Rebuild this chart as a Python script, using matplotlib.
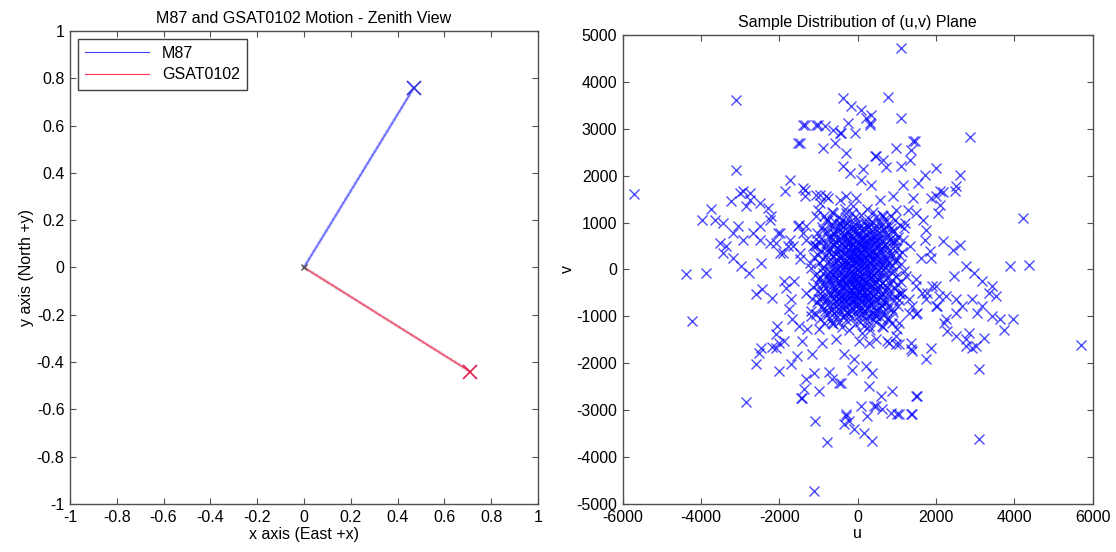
import numpy as np
import matplotlib
matplotlib.use("Agg")
import matplotlib.pyplot as plt

plt.rcParams['font.family'] = ['Liberation Sans', 'DejaVu Sans']
plt.rcParams['axes.unicode_minus'] = False

# Zenith view tracks (start, end)
m87_x = [0.0, 0.47]
m87_y = [0.0, 0.76]
gsat_x = [0.0, 0.71]
gsat_y = [0.0, -0.44]

# (u,v) samples, upper half plane only; the lower half is the conjugate (-u,-v)
outer_pts = [
    (-5711, 1617), (-3097, 3617), (-3097, 2128), (-3975, 1064), (-3736, 1298),
    (-3633, 1064), (-3438, 1000), (-3225, 1454), (-3012, 1631), (-2757, 1631),
    (-2757, 1489), (-2502, 1418), (-2290, 1312), (-2247, 1064), (-3055, 922),
    (-3183, 780), (-2928, 638), (-2673, 780), (-3353, 496), (-3523, 567),
    (-3438, 355), (-3183, 248), (-2970, 70), (-2459, 142), (-2502, 638),
    (-2247, 567), (-2035, 780), (-1991, 355), (-1779, 496), (-1736, 1915),
    (-1864, 1666), (-1524, 2696), (-1353, 3085), (-1353, 1702), (-1353, 1560),
    (-1055, 3085), (-885, 2589), (-842, 3050), (-1055, 1596), (-800, 1560),
    (-630, 2979), (-587, 2696), (-1498, 957), (-1013, 1277),
    (1115, 4716), (-375, 3652), (-162, 3489), (94, 3404), (349, 3298),
    (221, 3227), (306, 3085), (775, 3674), (1098, 3227), (-460, 2908),
    (-77, 2908), (2859, 2816), (1455, 2730), (988, 2589), (1370, 2553),
    (477, 2411), (647, 2340), (1328, 2340), (732, 2177), (1115, 2199),
    (2009, 2163), (2604, 2021), (2519, 1773), (2476, 1666), (1540, 1844),
    (1711, 2021), (2178, 1645), (2009, 1560), (2093, 1383), (2051, 1206),
    (4221, 1100), (1668, 1064), (1711, 638), (2178, 603), (2434, 425),
    (2604, 532), (1881, 248), (2774, 70), (3881, 70), (4374, 106),
    (-1396, 3085), (-1013, 3085), (-417, 2908), (-247, 3121), (-1481, 2696),
    (-289, 2482), (-375, 2199), (-204, 2057), (-1396, 1738), (-2928, 1666),
    (-970, 1596), (-758, 1525), (-460, 1489), (-289, 1560), (-2204, 1135),
    (-2842, 1347), (-970, 1418), (-1055, 1135), (-1311, 922), (-1524, 922),
    (-800, 1064), (-630, 1206), (-2502, 922), (-1991, 780), (-1736, 638),
    (-2076, 567), (-1906, 355), (-1651, 496), (-1311, 638), (-1055, 496),
    (-1481, 213), (-1226, 142), (-885, 851), (-630, 780), (-460, 993),
    (-289, 1206), (-119, 1347),
    (306, 3121), (1413, 2730), (434, 2411), (136, 2142), (349, 1808),
    (94, 1915), (1157, 1808), (2093, 1666), (1881, 1525), (1413, 1525),
    (903, 1560), (562, 1489), (-34, 1525), (988, 1277), (1285, 1277),
    (1498, 1206), (647, 1135), (1200, 993), (1753, 851), (1838, 390),
    (1626, 248), (1328, 496), (903, 638), (-1396, 780), (-1481, 355),
    (-1141, 496),
]

core_pts = [
    (-1180, 40), (-1120, 260), (-1090, 520), (-1040, 780), (-990, 130),
    (-960, 390), (-930, 640), (-900, 900), (-870, 1150), (-850, 60),
    (-820, 300), (-800, 560), (-780, 820), (-760, 1050), (-740, 190),
    (-720, 450), (-700, 700), (-680, 960), (-660, 1230), (-640, 20),
    (-620, 280), (-600, 520), (-590, 760), (-570, 1010), (-550, 150),
    (-530, 390), (-510, 630), (-500, 880), (-480, 1120), (-460, 60),
    (-450, 310), (-430, 560), (-410, 800), (-400, 1050), (-380, 200),
    (-370, 440), (-350, 690), (-330, 940), (-320, 1300), (-300, 90),
    (-290, 330), (-270, 580), (-250, 830), (-240, 1080), (-220, 10),
    (-210, 240), (-190, 480), (-180, 720), (-160, 970), (-150, 1200),
    (-130, 130), (-120, 370), (-100, 610), (-90, 860), (-70, 1110),
    (-60, 40), (-40, 270), (-30, 510), (-10, 760), (0, 1000),
    (20, 180), (30, 420), (50, 660), (60, 910), (80, 1160),
    (90, 70), (110, 310), (120, 550), (140, 800), (150, 1040),
    (170, 210), (180, 450), (200, 690), (210, 940), (230, 1280),
    (240, 100), (260, 340), (270, 580), (290, 830), (300, 1070),
    (320, 20), (330, 260), (350, 500), (360, 740), (380, 990),
    (390, 1230), (410, 150), (420, 390), (440, 630), (450, 880),
    (470, 1120), (480, 60), (500, 290), (510, 530), (530, 780),
    (540, 1020), (560, 200), (570, 430), (590, 670), (600, 920),
    (620, 1170), (630, 110), (650, 350), (660, 590), (680, 840),
    (690, 1080), (710, 30), (720, 250), (740, 490), (750, 730),
    (770, 980), (790, 160), (800, 400), (820, 640), (840, 890),
    (860, 1140), (880, 70), (900, 310), (920, 560), (940, 810),
    (960, 1060), (980, 200), (1010, 450), (1040, 700), (1070, 950),
    (1100, 120), (1130, 380), (1160, 620), (1190, 880),
    (-500, 180), (-350, 80), (-250, 420), (-150, 250), (-50, 150),
    (50, 350), (150, 120), (250, 230), (350, 130), (450, 250),
    (-420, 650), (-280, 760), (-120, 820), (40, 560), (190, 590),
    (330, 680), (480, 720), (610, 450), (-560, 330), (-700, 120),
    (700, 180), (-20, 20), (100, 480), (-200, 600), (380, 380),
    (-80, 420), (260, 900), (-380, 900), (560, 560), (-640, 520),
]

# extra samples filling the saturated centre
centre_pts = [
    (-880, 220), (-810, 470), (-760, 690), (-690, 330), (-660, 880),
    (-610, 140), (-580, 610), (-540, 820), (-490, 450), (-470, 260),
    (-440, 980), (-400, 120), (-390, 560), (-360, 340), (-340, 760),
    (-310, 200), (-300, 480), (-270, 1000), (-260, 640), (-230, 130),
    (-200, 360), (-180, 880), (-170, 60), (-140, 530), (-110, 700),
    (-100, 190), (-80, 980), (-60, 340), (-40, 620), (-20, 840),
    (10, 100), (20, 300), (40, 760), (70, 520), (80, 210),
    (100, 640), (130, 380), (160, 880), (180, 60), (200, 270),
    (220, 500), (250, 730), (280, 140), (300, 410), (320, 980),
    (340, 600), (370, 230), (390, 820), (420, 50), (440, 480),
    (460, 330), (490, 620), (520, 180), (550, 880), (580, 380),
    (600, 60), (630, 730), (670, 250), (700, 520), (730, 900),
    (760, 100), (790, 620), (830, 300), (870, 820), (900, 460),
    (950, 150), (990, 620), (1050, 300), (-950, 560), (-1010, 300),
    (-1060, 650), (-920, 30), (-760, 380), (-640, 650), (-520, 30),
    (-330, 150), (-180, 290), (-60, 480), (60, 230), (160, 420),
    (290, 320), (410, 560), (-450, 420), (-240, 540), (120, 700),
]

half = np.array(outer_pts + core_pts + centre_pts, dtype=float)
u = np.concatenate([half[:, 0], -half[:, 0]])
v = np.concatenate([half[:, 1], -half[:, 1]])

fig = plt.figure(figsize=(11.16, 5.52), dpi=100)
ax1 = fig.add_axes([0.0627, 0.087, 0.4193, 0.857])
ax2 = fig.add_axes([0.558, 0.087, 0.421, 0.8496])

edge = '#505050'
fs = 11.5

# left panel
ax1.plot(m87_x, m87_y, color='#4040ff', lw=0.8, label='M87')
ax1.plot(m87_x, m87_y, color='#7070ff', lw=2.4, ls=(0, (0.5, 0.9)),
         dash_capstyle='round', alpha=0.5)
ax1.plot(gsat_x, gsat_y, color='#ff3050', lw=0.8, label='GSAT0102')
ax1.plot(gsat_x, gsat_y, color='#d05070', lw=2.4, ls=(0, (0.5, 0.9)),
         dash_capstyle='round', alpha=0.4)
ax1.plot(m87_x[-1], m87_y[-1], 'x', color='#3030e0', ms=10, mew=1.2)
ax1.plot(gsat_x[-1], gsat_y[-1], 'x', color='#e02050', ms=10, mew=1.2)
ax1.plot(m87_x[0], m87_y[0], 'x', color='#555555', ms=5, mew=1.0)

ax1.set_xlim(-1, 1)
ax1.set_ylim(-1, 1)
t1 = np.round(np.arange(-1, 1.01, 0.2), 1) + 0.0
ax1.set_xticks(t1)
ax1.set_yticks(t1)
lab1 = ['0' if abs(t) < 1e-9 else '%g' % t for t in t1]
ax1.set_xticklabels(lab1)
ax1.set_yticklabels(lab1)
ax1.set_title('M87 and GSAT0102 Motion - Zenith View', fontsize=fs, pad=6)
ax1.set_xlabel('x axis (East +x)', fontsize=fs, labelpad=2)
ax1.set_ylabel('y axis (North +y)', fontsize=fs, labelpad=2)
leg = ax1.legend(loc='upper left', fontsize=fs, fancybox=False, framealpha=1,
                 edgecolor='#404040', handlelength=4.0, borderaxespad=0.5,
                 borderpad=0.45, labelspacing=0.4)
leg.get_frame().set_linewidth(1.0)

# right panel
ax2.plot(u, v, 'x', color='blue', ms=6.5, mew=1.0, alpha=0.7, ls='none')
ax2.set_xlim(-6000, 6000)
ax2.set_ylim(-5000, 5000)
ax2.set_xticks(np.arange(-6000, 6001, 2000))
ax2.set_yticks(np.arange(-5000, 5001, 1000))
ax2.set_title('Sample Distribution of (u,v) Plane', fontsize=fs, pad=6)
ax2.set_xlabel('u', fontsize=fs, labelpad=1)
ax2.set_ylabel('v', fontsize=fs, labelpad=1)

for ax in (ax1, ax2):
    ax.tick_params(direction='in', top=True, right=True, length=4,
                   labelsize=fs, color=edge, pad=4)
    for s in ax.spines.values():
        s.set_color(edge)
        s.set_linewidth(1.0)

fig.savefig('out.png', dpi=100)
